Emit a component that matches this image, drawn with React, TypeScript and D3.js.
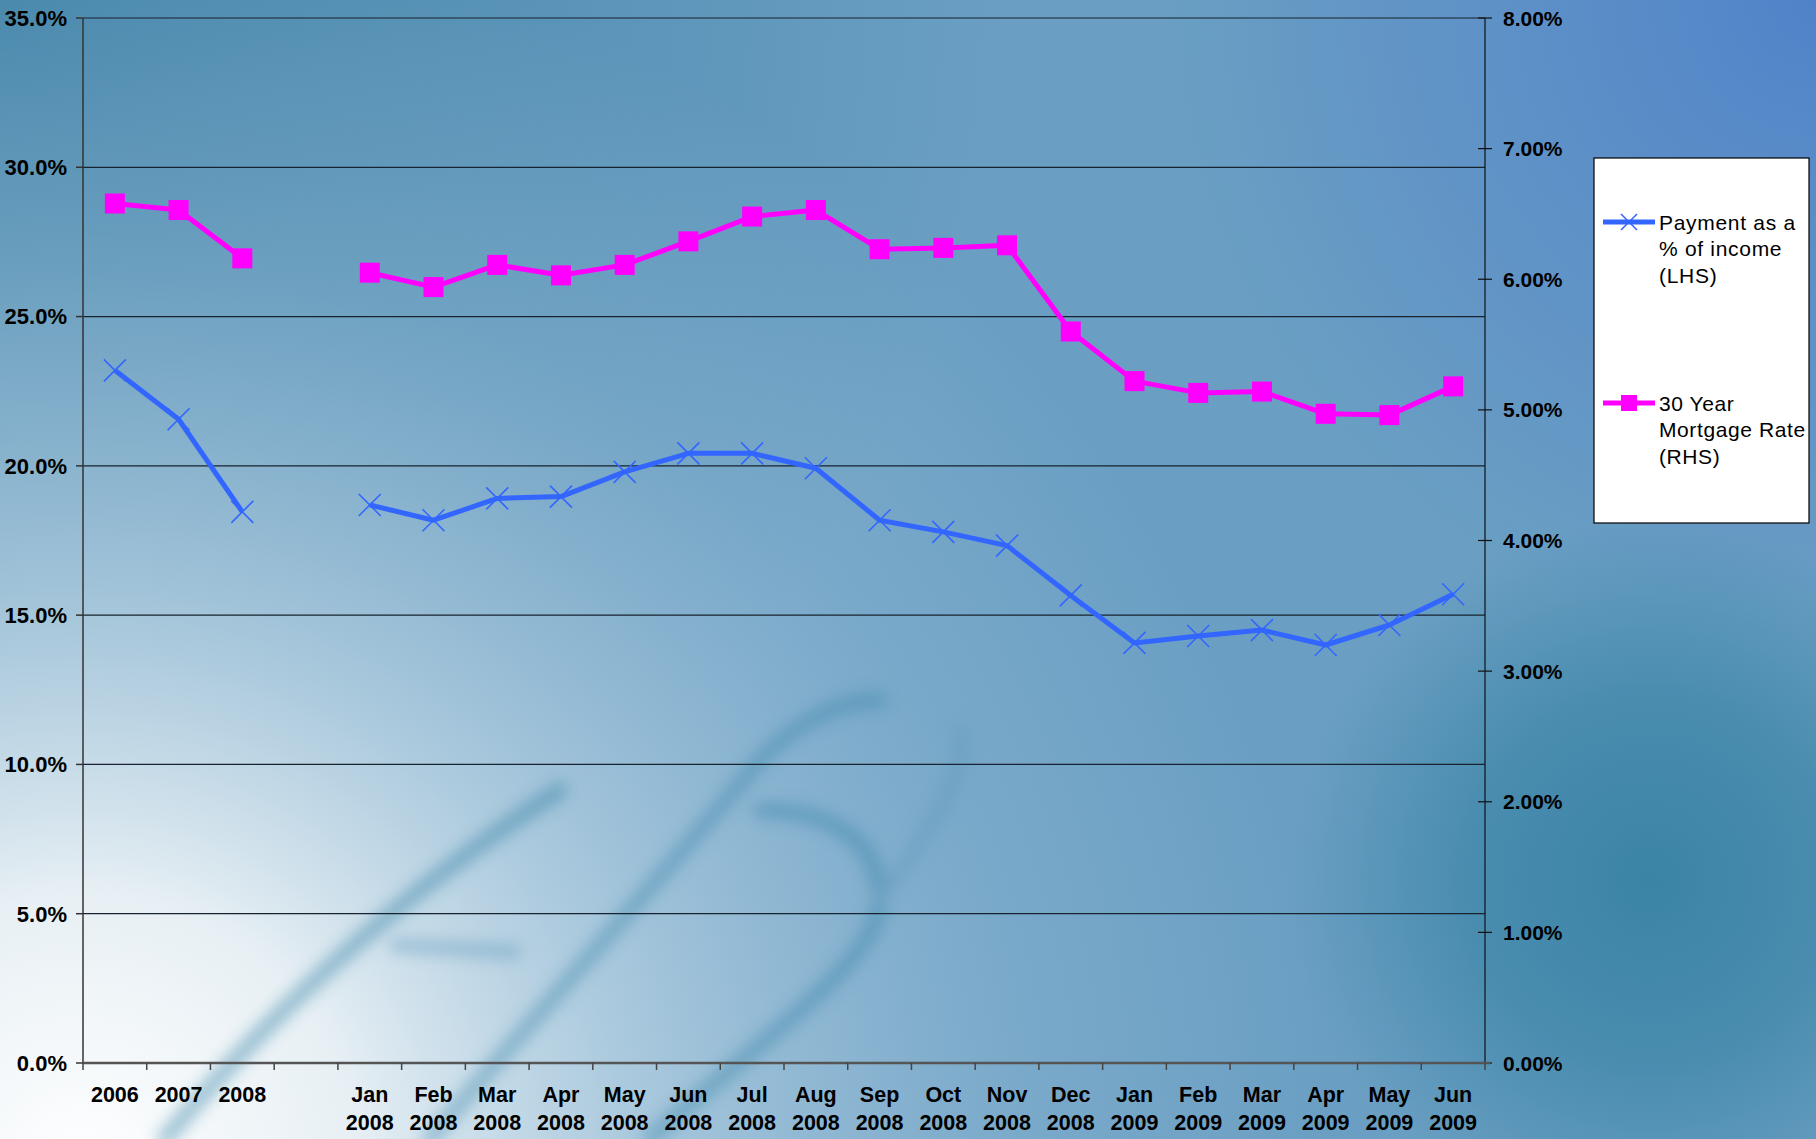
import React from "react";
import * as d3 from "d3";

const categories: string[] = [
  "2006", "2007", "2008", "",
  "Jan 2008", "Feb 2008", "Mar 2008", "Apr 2008", "May 2008", "Jun 2008",
  "Jul 2008", "Aug 2008", "Sep 2008", "Oct 2008", "Nov 2008", "Dec 2008",
  "Jan 2009", "Feb 2009", "Mar 2009", "Apr 2009", "May 2009", "Jun 2009",
];

const paymentPct: (number | null)[] = [
  23.2, 21.56, 18.46, null,
  18.69, 18.18, 18.91, 18.97, 19.8, 20.42,
  20.42, 19.92, 18.18, 17.79, 17.33, 15.66,
  14.07, 14.3, 14.5, 14.0, 14.67, 15.7,
];

const mortgageRate: (number | null)[] = [
  6.58, 6.53, 6.16, null,
  6.05, 5.94, 6.11, 6.03, 6.11, 6.29,
  6.48, 6.53, 6.23, 6.24, 6.26, 5.6,
  5.22, 5.13, 5.14, 4.97, 4.96, 5.18,
];

const leftTicks: number[] = [0, 5, 10, 15, 20, 25, 30, 35];
const rightTicks: number[] = [0, 1, 2, 3, 4, 5, 6, 7, 8];

const legendPayment: string[] = ["Payment as a", "% of income", "(LHS)"];
const legendRate: string[] = ["30 Year", "Mortgage Rate", "(RHS)"];

const W = 1816;
const H = 1139;
const plot = { left: 83, right: 1485, top: 18, bottom: 1063 };
const BLUE = "#3366ff";
const MAGENTA = "#ff00ff";
const FONT = "'Liberation Sans', Arial, Helvetica, sans-serif";

export default function App() {
  const x = d3
    .scaleBand<number>()
    .domain(categories.map((_, i) => i))
    .range([plot.left, plot.right])
    .padding(0);
  const yL = d3.scaleLinear().domain([0, 35]).range([plot.bottom, plot.top]);
  const yR = d3.scaleLinear().domain([0, 8]).range([plot.bottom, plot.top]);
  const cx = (i: number) => (x(i) as number) + x.bandwidth() / 2;

  const linePay = d3
    .line<number | null>()
    .defined((d) => d != null)
    .x((_, i) => cx(i))
    .y((d) => yL(d as number));
  const lineRate = d3
    .line<number | null>()
    .defined((d) => d != null)
    .x((_, i) => cx(i))
    .y((d) => yR(d as number));

  const boundaries = d3.range(categories.length + 1).map((i) =>
    plot.left + i * x.bandwidth()
  );

  const xMark = (px: number, py: number, key: string | number, s = 11) => (
    <g key={key} stroke={BLUE} strokeWidth={1.6}>
      <line x1={px - s} y1={py - s} x2={px + s} y2={py + s} />
      <line x1={px - s} y1={py + s} x2={px + s} y2={py - s} />
    </g>
  );

  return (
    <svg
      width={W}
      height={H}
      style={{ position: "absolute", left: 0, top: 0, display: "block" }}
      fontFamily={FONT}
    >
      <defs>
        <radialGradient id="tl" cx="0" cy="0" r="1000" gradientUnits="userSpaceOnUse">
          <stop offset="0" stopColor="#4485a9" stopOpacity="1" />
          <stop offset="1" stopColor="#4485a9" stopOpacity="0" />
        </radialGradient>
        <radialGradient id="tr" cx="1816" cy="0" r="650" gradientUnits="userSpaceOnUse">
          <stop offset="0" stopColor="#4f83c9" stopOpacity="1" />
          <stop offset="0.6" stopColor="#5a8cc8" stopOpacity="0.6" />
          <stop offset="1" stopColor="#5a8cc8" stopOpacity="0" />
        </radialGradient>
        <radialGradient id="teal" cx="1650" cy="880" r="360" gradientUnits="userSpaceOnUse">
          <stop offset="0" stopColor="#3b84a6" stopOpacity="1" />
          <stop offset="0.5" stopColor="#3b84a6" stopOpacity="0.7" />
          <stop offset="1" stopColor="#3b84a6" stopOpacity="0" />
        </radialGradient>
        <radialGradient id="glow" cx="80" cy="1170" r="1250" gradientUnits="userSpaceOnUse">
          <stop offset="0" stopColor="#ffffff" stopOpacity="1" />
          <stop offset="0.22" stopColor="#eef4f7" stopOpacity="0.95" />
          <stop offset="0.45" stopColor="#c4dae8" stopOpacity="0.7" />
          <stop offset="0.75" stopColor="#a0c2da" stopOpacity="0.3" />
          <stop offset="1" stopColor="#a0c2da" stopOpacity="0" />
        </radialGradient>
        <filter id="blur" x="-50%" y="-50%" width="200%" height="200%">
          <feGaussianBlur stdDeviation="8" />
        </filter>
      </defs>

      <rect x={0} y={0} width={W} height={H} fill="#6a9fc3" />
      <rect x={0} y={0} width={W} height={H} fill="url(#tl)" />
      <rect x={0} y={0} width={W} height={H} fill="url(#tr)" />
      <rect x={0} y={0} width={W} height={H} fill="url(#teal)" />
      <rect x={0} y={0} width={W} height={H} fill="url(#glow)" />

      {/* faint background logo strokes */}
      <g filter="url(#blur)" fill="none" strokeLinecap="round" opacity={0.5}>
        <path d="M 165 1139 C 280 1000, 420 880, 560 790" stroke="#2f7fa3" strokeWidth={15} />
        <path d="M 395 945 L 515 952" stroke="#5c97b8" strokeWidth={12} />
        <path d="M 430 1139 C 540 1010, 660 880, 760 760 C 800 720, 840 700, 880 700" stroke="#3a86aa" strokeWidth={14} />
        <path d="M 650 1139 C 760 1040, 880 960, 880 900 C 880 840, 830 810, 760 810" stroke="#3a86aa" strokeWidth={15} />
        <path d="M 880 900 C 930 830, 970 770, 960 730" stroke="#5e99bb" strokeWidth={12} />
      </g>

      {/* gridlines */}
      {leftTicks.filter((t) => t > 0).map((t) => (
        <line key={"g" + t} x1={plot.left} x2={plot.right} y1={yL(t)} y2={yL(t)} stroke="#17232e" strokeWidth={1.2} />
      ))}

      {/* left axis */}
      <line x1={plot.left} x2={plot.left} y1={plot.top} y2={plot.bottom} stroke="#333" strokeWidth={1.5} />
      {leftTicks.map((t) => (
        <g key={"l" + t}>
          <line x1={plot.left - 7} x2={plot.left} y1={yL(t)} y2={yL(t)} stroke="#333" strokeWidth={1.5} />
          <text x={67} y={yL(t)} dy="0.36em" textAnchor="end" fontSize={22} fontWeight="bold" fill="#000">
            {t.toFixed(1) + "%"}
          </text>
        </g>
      ))}

      {/* right axis */}
      <line x1={plot.right} x2={plot.right} y1={plot.top} y2={plot.bottom} stroke="#111" strokeWidth={1.2} />
      {rightTicks.map((t) => (
        <g key={"r" + t}>
          <line x1={plot.right - 7} x2={plot.right + 7} y1={yR(t)} y2={yR(t)} stroke="#111" strokeWidth={1.2} />
          <text x={1503} y={yR(t)} dy="0.36em" textAnchor="start" fontSize={21} fontWeight="bold" fill="#000">
            {t.toFixed(2) + "%"}
          </text>
        </g>
      ))}

      {/* bottom axis */}
      <line x1={plot.left} x2={plot.right + 5} y1={plot.bottom} y2={plot.bottom} stroke="#555" strokeWidth={2.5} />
      {boundaries.map((bx, i) => (
        <line key={"b" + i} x1={bx} x2={bx} y1={plot.bottom} y2={plot.bottom + 7} stroke="#444" strokeWidth={1.5} />
      ))}
      {categories.map((c, i) => {
        const parts = c.split(" ");
        return (
          <text key={"c" + i} x={cx(i)} textAnchor="middle" fontSize={21.5} fontWeight="bold" fill="#000">
            {parts.length === 1 ? (
              <tspan x={cx(i)} y={1102}>{parts[0]}</tspan>
            ) : (
              <>
                <tspan x={cx(i)} y={1102}>{parts[0]}</tspan>
                <tspan x={cx(i)} y={1130}>{parts[1]}</tspan>
              </>
            )}
          </text>
        );
      })}

      {/* series */}
      <path d={linePay(paymentPct) || ""} fill="none" stroke={BLUE} strokeWidth={5} strokeLinejoin="round" />
      {paymentPct.map((v, i) => (v == null ? null : xMark(cx(i), yL(v), "p" + i)))}

      <path d={lineRate(mortgageRate) || ""} fill="none" stroke={MAGENTA} strokeWidth={5} strokeLinejoin="round" />
      {mortgageRate.map((v, i) =>
        v == null ? null : (
          <rect key={"m" + i} x={cx(i) - 10} y={yR(v) - 10} width={20} height={20} fill={MAGENTA} />
        )
      )}

      {/* legend */}
      <rect x={1594} y={158} width={215} height={365} fill="#fff" stroke="#000" strokeWidth={1.2} />
      <line x1={1603} x2={1655} y1={222} y2={222} stroke={BLUE} strokeWidth={5} />
      {xMark(1629, 222, "lx", 8)}
      {legendPayment.map((t, i) => (
        <text key={"lp" + i} x={1659} y={222 + i * 26.5} dy="0.36em" fontSize={21} fill="#000" letterSpacing={0.7}>
          {t}
        </text>
      ))}
      <line x1={1603} x2={1655} y1={403} y2={403} stroke={MAGENTA} strokeWidth={5} />
      <rect x={1621} y={395} width={16} height={16} fill={MAGENTA} />
      {legendRate.map((t, i) => (
        <text key={"lr" + i} x={1659} y={403 + i * 26.5} dy="0.36em" fontSize={21} fill="#000" letterSpacing={0.6}>
          {t}
        </text>
      ))}
    </svg>
  );
}
